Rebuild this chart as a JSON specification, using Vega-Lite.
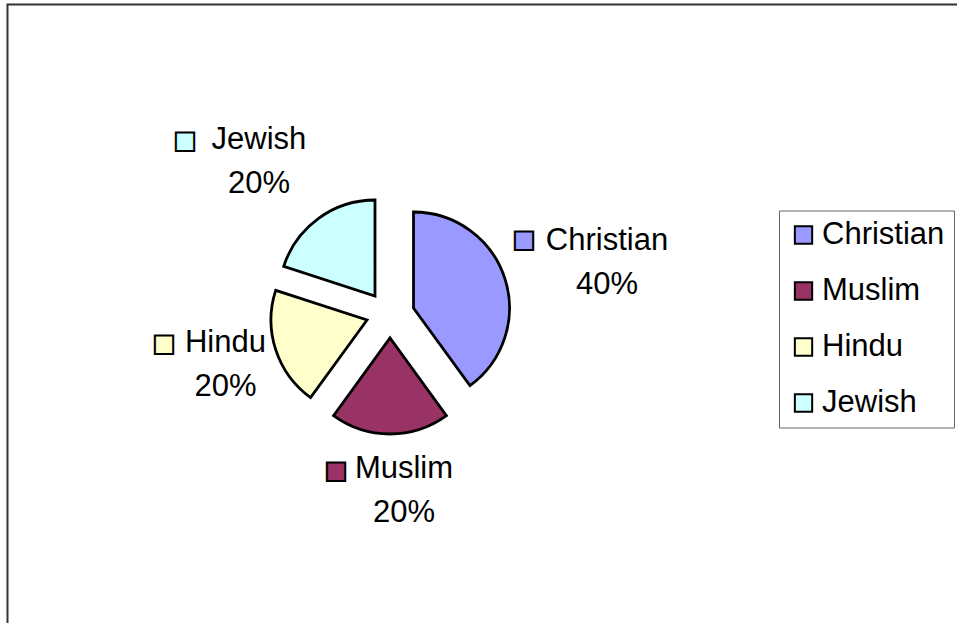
{
  "$schema": "https://vega.github.io/schema/vega-lite/v6.json",
  "width": 952.5,
  "height": 621.5,
  "autosize": {"type": "none"},
  "padding": {"left": 7.5, "top": 4.5, "right": -3, "bottom": -3},
  "background": "white",
  "view": {"stroke": "#333333", "strokeWidth": 2, "fill": "white"},
  "config": {
    "view": {"stroke": "#333333", "strokeWidth": 2},
    "text": {"font": "Liberation Sans"}
  },
  "data": {
    "values": [
      {"religion": "Christian", "value": 40},
      {"religion": "Muslim", "value": 20},
      {"religion": "Hindu", "value": 20},
      {"religion": "Jewish", "value": 20}
    ]
  },
  "transform": [
    {"joinaggregate": [{"op": "sum", "field": "value", "as": "total"}]},
    {"stack": "value", "groupby": [], "as": ["v0", "v1"]},
    {"calculate": "(datum.v0 + datum.v1) / 2", "as": "mid"},
    {"calculate": "datum.religion + '\\n' + format(datum.value / datum.total, '.0%')", "as": "label"}
  ],
  "encoding": {
    "theta": {"field": "v0", "type": "quantitative", "scale": {"domain": [0, 100]}, "stack": null}
  },
  "layer": [
    {
      "transform": [{"filter": "datum.religion == 'Christian'"}],
      "mark": {"type": "arc", "outerRadius": 96, "stroke": "black", "strokeWidth": 2.8, "xOffset": -70.25, "yOffset": -7.25},
      "encoding": {
        "theta2": {"field": "v1"},
        "color": {"field": "religion", "type": "nominal",
          "scale": {"domain": ["Christian", "Muslim", "Hindu", "Jewish"], "range": ["#9999FF", "#993366", "#FFFFCC", "#CCFFFF"]},
          "legend": {"orient": "none", "legendX": 771.5, "legendY": 206, "title": null,
            "symbolType": "square", "symbolSize": 300, "symbolStrokeColor": "black", "symbolStrokeWidth": 2, "symbolOpacity": 1,
            "labelFont": "Liberation Sans", "labelFontSize": 31, "labelColor": "black", "labelOffset": 3,
            "rowPadding": 24, "padding": 9, "strokeColor": "#666666", "fillColor": "white"}}
      }
    },
    {
      "transform": [{"filter": "datum.religion == 'Muslim'"}],
      "mark": {"type": "arc", "outerRadius": 96, "stroke": "black", "strokeWidth": 2.8, "xOffset": -93.75, "yOffset": 22.75},
      "encoding": {"theta2": {"field": "v1"}, "color": {"field": "religion", "type": "nominal"}}
    },
    {
      "transform": [{"filter": "datum.religion == 'Hindu'"}],
      "mark": {"type": "arc", "outerRadius": 96, "stroke": "black", "strokeWidth": 2.8, "xOffset": -116.75, "yOffset": 4.75},
      "encoding": {"theta2": {"field": "v1"}, "color": {"field": "religion", "type": "nominal"}}
    },
    {
      "transform": [{"filter": "datum.religion == 'Jewish'"}],
      "mark": {"type": "arc", "outerRadius": 96, "stroke": "black", "strokeWidth": 2.8, "xOffset": -108.75, "yOffset": -19.25},
      "encoding": {"theta2": {"field": "v1"}, "color": {"field": "religion", "type": "nominal"}}
    },
    {
      "transform": [{"filter": "datum.religion == 'Christian'"}],
      "mark": {"type": "text", "radius": 198, "xOffset": -70.25, "yOffset": -7.25, "dx": 5.2, "dy": -5.8, "fontSize": 31, "lineBreak": "\n", "lineHeight": 44, "align": "center", "baseline": "middle", "fill": "black"},
      "encoding": {"theta": {"field": "mid", "type": "quantitative", "stack": null}, "text": {"field": "label"}}
    },
    {
      "transform": [{"filter": "datum.religion == 'Muslim'"}],
      "mark": {"type": "text", "radius": 152.5, "xOffset": -93.75, "yOffset": 22.75, "dx": 14, "dy": -22, "fontSize": 31, "lineBreak": "\n", "lineHeight": 44, "align": "center", "baseline": "middle", "fill": "black"},
      "encoding": {"theta": {"field": "mid", "type": "quantitative", "stack": null}, "text": {"field": "label"}}
    },
    {
      "transform": [{"filter": "datum.religion == 'Hindu'"}],
      "mark": {"type": "text", "radius": 148.3, "xOffset": -116.75, "yOffset": 4.75, "dx": -0.5, "dy": -23.3, "fontSize": 31, "lineBreak": "\n", "lineHeight": 44, "align": "center", "baseline": "middle", "fill": "black"},
      "encoding": {"theta": {"field": "mid", "type": "quantitative", "stack": null}, "text": {"field": "label"}}
    },
    {
      "transform": [{"filter": "datum.religion == 'Jewish'"}],
      "mark": {"type": "text", "radius": 177, "xOffset": -108.75, "yOffset": -19.25, "dx": -12, "dy": -13.3, "fontSize": 31, "lineBreak": "\n", "lineHeight": 44, "align": "center", "baseline": "middle", "fill": "black"},
      "encoding": {"theta": {"field": "mid", "type": "quantitative", "stack": null}, "text": {"field": "label"}}
    },
    {
      "transform": [{"filter": "datum.religion == 'Christian'"}],
      "mark": {"type": "text", "text": "■", "font": "DejaVu Sans", "fontSize": 24, "fill": "#9999FF", "stroke": "black", "strokeWidth": 2, "radius": 126, "xOffset": -70.25, "yOffset": -7.25, "dx": -9.3, "dy": -28.6, "align": "center", "baseline": "middle"},
      "encoding": {"theta": {"field": "mid", "type": "quantitative", "stack": null}}
    },
    {
      "transform": [{"filter": "datum.religion == 'Muslim'"}],
      "mark": {"type": "text", "text": "■", "font": "DejaVu Sans", "fontSize": 24, "fill": "#993366", "stroke": "black", "strokeWidth": 2, "radius": 133, "xOffset": -93.75, "yOffset": 22.75, "dx": -54, "dy": 0, "align": "center", "baseline": "middle"},
      "encoding": {"theta": {"field": "mid", "type": "quantitative", "stack": null}}
    },
    {
      "transform": [{"filter": "datum.religion == 'Hindu'"}],
      "mark": {"type": "text", "text": "■", "font": "DejaVu Sans", "fontSize": 24, "fill": "#FFFFCC", "stroke": "black", "strokeWidth": 2, "radius": 200.5, "xOffset": -116.75, "yOffset": 4.75, "dx": -12.3, "dy": -38, "align": "center", "baseline": "middle"},
      "encoding": {"theta": {"field": "mid", "type": "quantitative", "stack": null}}
    },
    {
      "transform": [{"filter": "datum.religion == 'Jewish'"}],
      "mark": {"type": "text", "text": "■", "font": "DejaVu Sans", "fontSize": 24, "fill": "#CCFFFF", "stroke": "black", "strokeWidth": 2, "radius": 237.1, "xOffset": -108.75, "yOffset": -19.25, "dx": -50.6, "dy": 36.8, "align": "center", "baseline": "middle"},
      "encoding": {"theta": {"field": "mid", "type": "quantitative", "stack": null}}
    }
  ]
}
